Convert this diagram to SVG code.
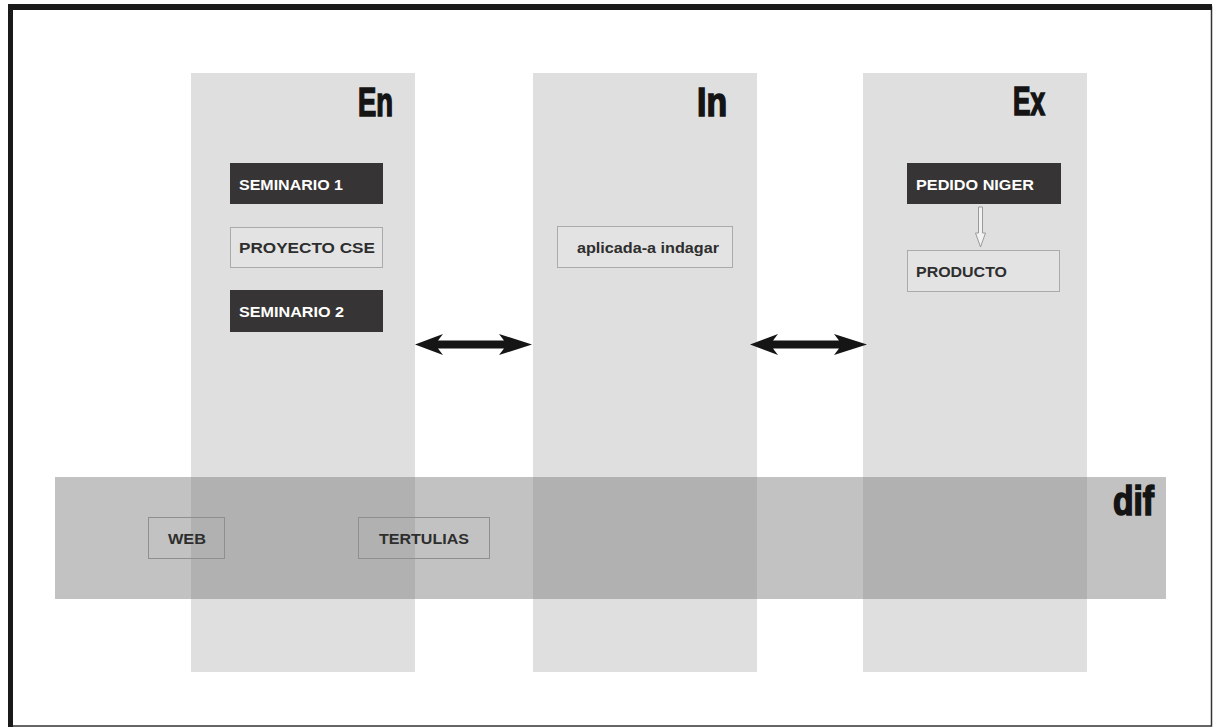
<svg xmlns="http://www.w3.org/2000/svg" width="1213" height="728" viewBox="0 0 1213 728">
<style>
.col{fill:#dfdfdf}
.band{fill:#7d7d7d;fill-opacity:0.47}
.dark{fill:#363434}
.light{fill:#e3e3e3;stroke:#aaaaaa;stroke-width:1}
.clear{fill:none;stroke:#8f8f8f;stroke-width:1}
.lbl{font-family:"Liberation Sans",Arial,sans-serif;font-weight:bold;font-size:14px}
.w{fill:#ffffff}
.k{fill:#2e2e2e}
.head{font-family:"Liberation Sans",Arial,sans-serif;font-weight:bold;font-size:40px;fill:#141414;stroke:#141414;stroke-width:1.6}
.dbl{fill:#151515}
</style>
<rect x="0" y="0" width="1213" height="728" fill="#ffffff"/>
<g id="frame">
<rect x="10.5" y="7" width="1201" height="719" fill="none" stroke="#333" stroke-width="1.5"/>
<rect x="8" y="4" width="1204" height="6" fill="#1a1a1a"/>
<rect x="8" y="4" width="5" height="723" fill="#1a1a1a"/>
</g>
<g id="col-en">
<rect class="col" x="191" y="73" width="224" height="599"/>
<text class="head" x="393" y="116" text-anchor="end" textLength="35" lengthAdjust="spacingAndGlyphs">En</text>
</g>
<g id="col-in">
<rect class="col" x="533" y="73" width="224" height="599"/>
<text class="head" x="727" y="116" text-anchor="end" textLength="30" lengthAdjust="spacingAndGlyphs">In</text>
</g>
<g id="col-ex">
<rect class="col" x="863" y="73" width="224" height="599"/>
<text class="head" x="1045" y="115" text-anchor="end" textLength="32" lengthAdjust="spacingAndGlyphs">Ex</text>
</g>
<g id="band-dif">
<rect class="band" x="55" y="477" width="1111" height="122"/>
<text class="head" x="1154" y="515" text-anchor="end" textLength="41" lengthAdjust="spacingAndGlyphs">dif</text>
</g>
<g id="seminario1">
<rect class="dark" x="230" y="163" width="153" height="41"/>
<text class="lbl w" x="239" y="190" textLength="104" lengthAdjust="spacingAndGlyphs">SEMINARIO 1</text>
</g>
<g id="proyecto-cse">
<rect class="light" x="230.5" y="227.5" width="152" height="40"/>
<text class="lbl k" x="239" y="253" textLength="136" lengthAdjust="spacingAndGlyphs">PROYECTO CSE</text>
</g>
<g id="seminario2">
<rect class="dark" x="230" y="290" width="153" height="42"/>
<text class="lbl w" x="239" y="317" textLength="105" lengthAdjust="spacingAndGlyphs">SEMINARIO 2</text>
</g>
<g id="aplicada">
<rect class="light" x="557.5" y="226.5" width="175" height="41"/>
<text class="lbl k" x="577" y="253" textLength="142" lengthAdjust="spacingAndGlyphs">aplicada-a indagar</text>
</g>
<g id="pedido-niger">
<rect class="dark" x="907" y="163" width="154" height="41"/>
<text class="lbl w" x="916" y="190" textLength="118" lengthAdjust="spacingAndGlyphs">PEDIDO NIGER</text>
</g>
<g id="producto">
<rect class="light" x="907.5" y="250.5" width="152" height="41"/>
<text class="lbl k" x="916" y="277" textLength="91" lengthAdjust="spacingAndGlyphs">PRODUCTO</text>
</g>
<g id="web">
<rect class="clear" x="148.5" y="517.5" width="76" height="41"/>
<text class="lbl k" x="168" y="544" textLength="38" lengthAdjust="spacingAndGlyphs">WEB</text>
</g>
<g id="tertulias">
<rect class="clear" x="358.5" y="517.5" width="131" height="41"/>
<text class="lbl k" x="379" y="544" textLength="90" lengthAdjust="spacingAndGlyphs">TERTULIAS</text>
</g>
<g id="connectors">
<path class="dbl" d="M415,344.5 L443,334 L438,340.5 L504,340.5 L499,334 L532,344.5 L499,355 L504,348.5 L438,348.5 L443,355 Z"/>
<path class="dbl" d="M750,344.5 L778,334 L773,340.5 L839,340.5 L834,334 L867,344.5 L834,355 L839,348.5 L773,348.5 L778,355 Z"/>
<path d="M978.5,207 L982.5,207 L982.5,233 L985.5,233 L980.5,247 L975.5,233 L978.5,233 Z" fill="#f2f2f2" stroke="#9a9a9a" stroke-width="1"/>
</g>
</svg>
